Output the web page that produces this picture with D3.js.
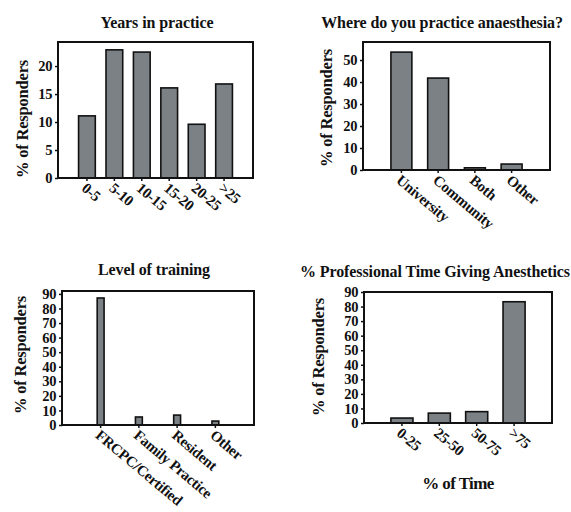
<!DOCTYPE html>
<html><head><meta charset="utf-8">
<script src="https://cdn.jsdelivr.net/npm/d3@7"></script>
<style>body{margin:0;background:#fff}svg{display:block}text{font-family:"Liberation Serif","DejaVu Serif",serif;font-weight:bold;fill:#111}</style>
</head><body><svg id="c" width="571" height="512"></svg>
<script>
const yearsCats = ["0-5","5-10","10-15","15-20","20-25",">25"];
const yearsVals = [11.1, 22.9, 22.5, 16.1, 9.6, 16.8];
const whereCats = ["University","Community","Both","Other"];
const whereVals = [53.6, 41.8, 1.0, 2.7];
const levelCats = ["FRCPC/Certified","Family Practice","Resident","Other"];
const levelVals = [87.2, 5.5, 6.8, 2.7];
const timeCats = ["0-25","25-50","50-75",">75"];
const timeVals = [3.4, 6.8, 7.8, 83.3];
const yearsTicks = [0,5,10,15,20];
const whereTicks = [0,10,20,30,40,50];
const tenTicks = [0,10,20,30,40,50,60,70,80,90];

const svg = d3.select("#c");
function panel(o){
  const g = svg.append("g");
  const x = d3.scaleBand().domain(o.cats).range([o.x0,o.x1]).paddingInner(o.pi).paddingOuter(o.po);
  const y = d3.scaleLinear().domain([0,o.ymax]).range([o.y1,o.y0]);
  g.selectAll("rect.bar").data(o.vals).join("rect").attr("class","bar")
    .attr("x",(d,i)=>x(o.cats[i])).attr("width",x.bandwidth())
    .attr("y",d=>y(d)).attr("height",d=>y(0)-y(d))
    .attr("fill","#7b8185").attr("stroke","#111").attr("stroke-width",1.6);
  g.append("rect").attr("x",o.x0).attr("y",o.y0).attr("width",o.x1-o.x0).attr("height",o.y1-o.y0)
    .attr("fill","none").attr("stroke","#111").attr("stroke-width",2);
  const ya = g.append("g").attr("transform",`translate(${o.x0},0)`)
    .call(d3.axisLeft(y).tickValues(o.ticks).tickSize(3).tickPadding(3).tickFormat(d3.format("d")));
  ya.select(".domain").remove();
  ya.selectAll("line").attr("stroke","#111").attr("stroke-width",1.5);
  ya.selectAll("text").style("font-size","14.5px").attr("letter-spacing","-0.4");
  const xa = g.append("g").attr("transform",`translate(0,${o.y1})`)
    .call(d3.axisBottom(x).tickSize(3).tickSizeOuter(0));
  xa.select(".domain").remove();
  xa.selectAll("line").attr("stroke","#111").attr("stroke-width",1.5);
  xa.selectAll("text").attr("y",0).attr("dy",0).attr("text-anchor","start")
    .attr("dominant-baseline","central")
    .attr("transform","translate(-3,8) rotate(40)").style("font-size","15px").attr("letter-spacing","-0.3");
  g.append("text").attr("x",o.tx).attr("y",o.ty).attr("text-anchor",o.tanchor||"middle")
    .attr("dominant-baseline","central").style("font-size","16px").attr("letter-spacing","-0.1").text(o.title);
  g.append("text").attr("transform",`translate(${o.lx},${o.ly}) rotate(-90)`).attr("text-anchor","middle")
    .attr("dominant-baseline","central").style("font-size","16.5px").attr("letter-spacing","-0.2").text("% of Responders");
  if(o.xlabel) g.append("text").attr("x",o.xlx).attr("y",o.xly).attr("text-anchor","middle")
    .attr("dominant-baseline","central").style("font-size","17px").attr("letter-spacing","-0.6").text(o.xlabel);
}
panel({cats:yearsCats,vals:yearsVals,ticks:yearsTicks,ymax:24.3,x0:58,x1:253,y0:42,y1:178,pi:0.39,po:0.75,
  title:"Years in practice",tx:157,ty:22,lx:22,ly:119});
panel({cats:whereCats,vals:whereVals,ticks:whereTicks,ymax:58.2,x0:363,x1:550,y0:42,y1:170,pi:0.43,po:0.76,
  title:"Where do you practice anaesthesia?",tx:442,ty:22,lx:326,ly:108});
panel({cats:levelCats,vals:levelVals,ticks:tenTicks,ymax:92,x0:62,x1:254,y0:291,y1:425,pi:0.82,po:0.92,
  title:"Level of training",tx:154,ty:269,lx:20,ly:355});
panel({cats:timeCats,vals:timeVals,ticks:tenTicks,ymax:90,x0:364,x1:552,y0:292,y1:423,pi:0.41,po:0.72,
  title:"% Professional Time Giving Anesthetics",tx:300,ty:271,tanchor:"start",lx:318,ly:357,
  xlabel:"% of Time",xlx:458,xly:483});
</script></body></html>
